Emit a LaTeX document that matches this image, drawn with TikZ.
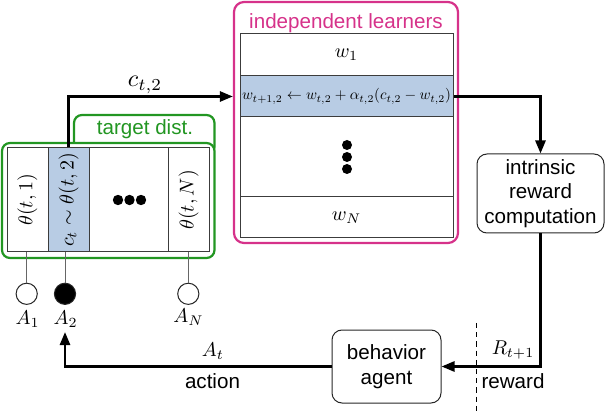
\documentclass[tikz,border=0pt]{standalone}
\usepackage[no-math]{fontspec}
\setmainfont{Liberation Sans}
\usepackage{graphicx}
\usetikzlibrary{arrows.meta}
\definecolor{tgreen}{RGB}{34,150,34}
\definecolor{lpink}{RGB}{214,50,138}
\definecolor{cblue}{RGB}{184,204,228}
\definecolor{cellline}{RGB}{60,60,60}
\begin{document}
\begin{tikzpicture}[x=0.5pt,y=-0.5pt,
  font=\fontsize{10.3}{12.2}\selectfont,
  cell/.style={draw=cellline, line width=0.5pt, inner sep=0pt, minimum height=#1},
  greenbox/.style={draw=tgreen, line width=1.1pt, rounded corners=4pt, fill=white, inner sep=0pt},
  pinkbox/.style={draw=lpink, line width=1.1pt, rounded corners=5pt, inner sep=0pt},
  procbox/.style={draw=black!85, line width=0.5pt, rounded corners=5pt, align=center, inner sep=0pt},
  flow/.style={line width=1.3pt, -{Triangle[length=6.5pt,width=5pt]}},
  stem/.style={draw=black!60, line width=0.5pt},
  armnode/.style={circle, draw=black!85, line width=0.5pt, minimum size=10.6pt, inner sep=0pt},
  plain/.style={inner sep=0pt}
]
\useasboundingbox (0,0) rectangle (605,411);

% ---------- target distribution (left) ----------
\node[greenbox, minimum width=70.25pt, minimum height=20pt] (tab) at (144.25,135) {};
\node[greenbox, minimum width=106.25pt, minimum height=57.5pt] (outer) at (108.25,200.5) {};
\node[plain, text=tgreen] (tablbl) at (145,129.5) {target dist.};

\node[cell=52pt, minimum width=20.5pt] (c1) at (27.5,200) {\rotatebox{90}{$\theta(t,1)$}};
\node[cell=52pt, minimum width=20.5pt, fill=cblue] (c2) at (68.5,200) {\rotatebox{90}{$c_t\sim\theta(t,2)$}};
\node[cell=52pt, minimum width=39.5pt] (c3) at (128.5,200) {};
\node[cell=52pt, minimum width=20.5pt] (c4) at (188.5,200) {\rotatebox{90}{$\theta(t,N)$}};
\fill (118,200) circle (5.2);
\fill (129.5,200) circle (5.2);
\fill (141,200) circle (5.2);

% ---------- arms ----------
\node[armnode] (a1) at (26.7,293.8) {};
\node[armnode, fill=black] (a2) at (65,293.8) {};
\node[armnode] (aN) at (188.3,293.8) {};
\draw[stem] (a1.north) -- (a1.north |- c1.south);
\draw[stem] (a2.north) -- (a2.north |- c2.south);
\draw[stem] (aN.north) -- (aN.north |- c4.south);
\node[plain] (la1) at (27.5,319) {$A_1$};
\node[plain] (la2) at (65.5,319) {$A_2$};
\node[plain] (laN) at (188.5,317) {$A_N$};

% ---------- independent learners ----------
\node[pinkbox, minimum width=112pt, minimum height=120.5pt] (pink) at (346,122.5) {};
\node[plain, text=lpink] (pinklbl) at (346,23.5) {independent learners};
\node[cell=21pt, minimum width=106.5pt] (r1) at (346.5,55) {$w_1$};
\node[cell=20.5pt, minimum width=106.5pt, fill=cblue] (r2) at (346.5,96.5)
  {\resizebox{104.5pt}{!}{$w_{t+1,2}\leftarrow w_{t,2}+\alpha_{t,2}(c_{t,2}-w_{t,2})$}};
\node[cell=40pt, minimum width=106.5pt] (r3) at (346.5,157) {};
\node[cell=20.5pt, minimum width=106.5pt] (r4) at (346.5,217.5) {$w_N$};
\fill (347,145) circle (5);
\fill (347,157) circle (5);
\fill (347,169) circle (5);

% ---------- processes ----------
\node[procbox, minimum width=63.5pt, minimum height=39.5pt] (irc) at (540.5,193.5) {intrinsic\\reward\\computation};
\node[procbox, minimum width=54.5pt, minimum height=36.5pt] (ba) at (386.5,366.5) {behavior\\agent};

% ---------- flows ----------
\draw[flow] (c2.north) |- (r2.west -| pink.west);
\node[plain, scale=1.2] (clbl) at (145,85) {$c_{t,2}$};
\draw[flow] (r2.east) -| (irc.north);
\draw[flow] (irc.south) |- (ba.east);
\coordinate (atip) at (65,332);
\draw[flow] (ba.west) -| (atip);

\node[plain] (atlbl) at (213,351) {$A_t$};
\node[plain] (actlbl) at (212.5,381) {action};
\node[plain] (rlbl) at (513,350) {$R_{t+1}$};
\node[plain] (rewlbl) at (513,381) {reward};

\coordinate (dtop) at (476,323);
\coordinate (dbot) at (476,411);
\draw[line width=0.5pt, dash pattern=on 2.6pt off 2pt] (dtop) -- (dbot);
\end{tikzpicture}
\end{document}
